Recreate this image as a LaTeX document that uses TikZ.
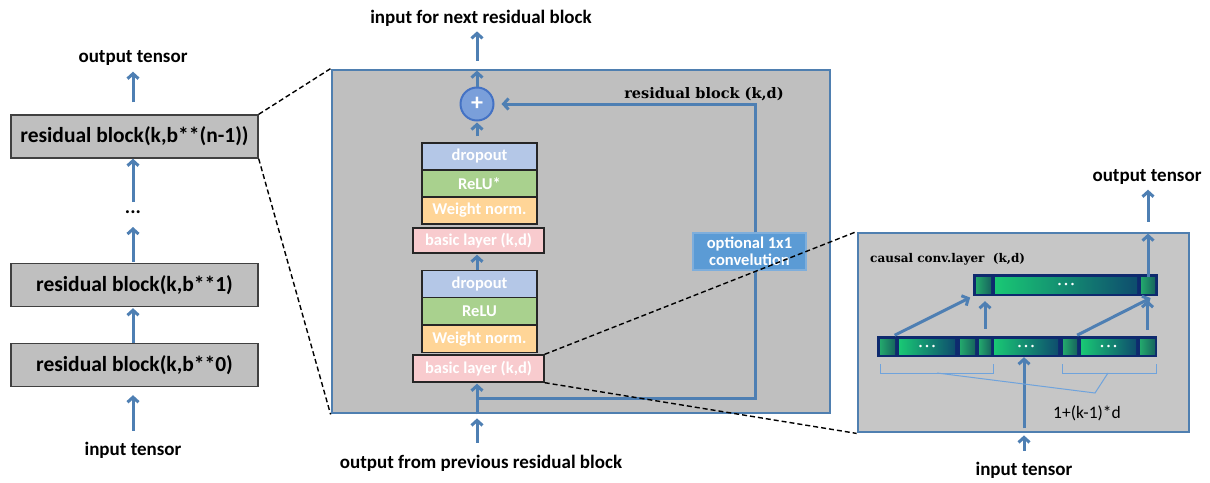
\documentclass[tikz,border=0pt]{standalone}
\usepackage{fontspec}
\setmainfont{Carlito}
\newfontfamily\slabfont{DejaVu Serif}
\usetikzlibrary{arrows.meta,calc}
\definecolor{arrowblue}{HTML}{4E7FB3}
\definecolor{boxgray}{HTML}{BFBFBF}
\definecolor{rgray}{HTML}{C6C6C6}
\definecolor{blockborder}{HTML}{4F7FB0}
\definecolor{dropc}{HTML}{B4C7E7}
\definecolor{reluc}{HTML}{A9D18E}
\definecolor{wnc}{HTML}{FFD597}
\definecolor{basicc}{HTML}{F8CBCE}
\definecolor{optc}{HTML}{5B9BD5}
\definecolor{optb}{HTML}{7EAEDC}
\definecolor{plusc}{HTML}{7A9FDA}
\definecolor{plusb}{HTML}{4472C4}
\definecolor{navy}{HTML}{0E2A6E}
\definecolor{brightg}{HTML}{19C874}
\definecolor{darkt}{HTML}{0E4D6E}
\definecolor{smallg}{HTML}{23A86C}
\definecolor{smalld}{HTML}{17655E}
\definecolor{braceblue}{HTML}{6FA3DC}
\newcommand{\celldots}{\fontsize{7}{7}\selectfont\textbullet\hspace{3pt}\textbullet\hspace{3pt}\textbullet}
\tikzset{
  arr/.style={draw=arrowblue, line width=3pt, -{Straight Barb[length=5pt,width=11pt]}},
  lbl/.style={inner sep=0pt, font=\fontsize{19}{21}\selectfont\bfseries},
  lbox/.style={draw=black!75, fill=boxgray, line width=1.4pt, minimum width=247pt, minimum height=43pt, inner sep=0pt, font=\fontsize{21.5}{23}\selectfont\bfseries},
  blockrect/.style={draw=blockborder, line width=2.8pt, inner sep=0pt},
  layer/.style={draw=black!85, line width=1.4pt, minimum width=115pt, minimum height=27pt, inner sep=0pt, text=white, font=\fontsize{16.5}{17}\selectfont\bfseries},
  zoomline/.style={draw=black, line width=1.4pt, dash pattern=on 5pt off 3pt},
  bar/.style={fill=navy, inner sep=0pt},
  bigcell/.style={left color=brightg, right color=darkt, inner sep=0pt, text=white},
  smallcell/.style={left color=smallg, right color=smalld, inner sep=0pt},
  brace/.style={draw=braceblue, line width=1pt},
}
\begin{document}
\begin{tikzpicture}[x=1pt,y=-1pt]
\useasboundingbox (0,0) rectangle (1210,482);
% ---------- left column ----------
\node[lbl] (ot) at (133,58) {output tensor};
\node[lbox] (bn) at (134.5,136.5) {residual block(k,b**(n-1))};
\node[lbl, font=\fontsize{20}{21}\selectfont\bfseries] (dots) at (133,212) {...};
\node[lbox] (b1) at (134.5,285) {residual block(k,b**1)};
\node[lbox] (b0) at (134.5,365) {residual block(k,b**0)};
\node[lbl] (it) at (133,450) {input tensor};
\coordinate (dtop) at (133,203);
\coordinate (dbot) at (133,227);
\draw[arr, shorten <=12pt, shorten >=6pt] (bn.north -| ot) -- (ot.south);
\draw[arr, shorten <=1pt] (dtop) -- (bn.south -| dots);
\draw[arr, shorten <=1pt] (b1.north -| dots) -- (dbot);
\draw[arr, shorten >=1pt] (b0.north -| dots) -- (b1.south -| dots);
\draw[arr, shorten <=11pt, shorten >=8pt] (it.north) -- (b0.south -| it);
% ---------- middle block ----------
\node[blockrect, fill=boxgray, minimum width=498pt, minimum height=343pt] (rb) at (581,241.5) {};
\node[lbl] (inext) at (481,18) {input for next residual block};
\node[lbl] (oprev) at (481,463) {output from previous residual block};
\node[circle, draw=plusb, fill=plusc, line width=2pt, minimum size=33pt, inner sep=0pt, text=white, font=\fontsize{24}{24}\selectfont\bfseries] (plus) at (477,104) {+};
\node[layer, fill=dropc] (d1) at (479.5,156.5) {dropout};
\node[layer, fill=reluc] (r1) at (479.5,183.5) {ReLU*};
\node[layer, fill=wnc] (w1) at (479.5,210.5) {Weight norm.};
\node[layer, fill=basicc, minimum width=131pt, minimum height=25pt] (bl1) at (478.5,240.5) {basic layer (k,d)};
\node[layer, fill=dropc] (d2) at (479.5,284) {dropout};
\node[layer, fill=reluc] (r2) at (479.5,311) {ReLU};
\node[layer, fill=wnc] (w2) at (479.5,339) {Weight norm.};
\node[layer, fill=basicc, minimum width=131pt] (bl2) at (478.5,368.5) {basic layer (k,d)};
\node[draw=optb, fill=optc, line width=1.4pt, minimum width=113pt, minimum height=37pt, inner sep=0pt, text=white, align=center, font=\fontsize{16.5}{17}\selectfont\bfseries] (opt) at (749.5,251.5) {optional 1x1\\convelution};
\node[inner sep=0pt, font=\slabfont\fontsize{14.5}{16}\selectfont\bfseries] (rbt) at (704,94) {residual block (k,d)};
\coordinate (rtop) at (755,104);
\coordinate (rbot) at (755,398);
\coordinate (rjoin) at (477,398);
% arrows
\draw[arr, shorten <=8pt, shorten >=5pt] (rb.north -| plus) -- (inext.south -| plus);
\draw[arr, shorten >=2pt] (plus.north) -- (plus.north |- rb.north);
\draw[arr, shorten <=6pt, shorten >=1pt] (d1.north -| plus) -- (plus.south);
\draw[arr, shorten >=1pt] (d2.north -| plus) -- (bl1.south -| plus);
\draw[arr, shorten <=12pt, shorten >=4pt] (oprev.north -| plus) -- (rb.south -| plus);
\draw[arr, shorten >=1pt] (rb.south -| plus) -- (bl2.south -| plus);
\draw[draw=arrowblue, line width=3pt] (opt.south -| rbot) -- (rbot) -- (rjoin);
\draw[arr, shorten >=7pt] (opt.north -| rtop) -- (rtop) -- (plus.east);
% ---------- right block ----------
\node[blockrect, fill=rgray, minimum width=331pt, minimum height=199pt] (cr) at (1023.5,332.5) {};
\node[lbl] (ot2) at (1147,177) {output tensor};
\node[lbl] (it2) at (1024,470) {input tensor};
\node[anchor=west, inner sep=0pt, font=\slabfont\fontsize{12}{13}\selectfont\bfseries] (cct) at (870,259) {causal conv.layer \ (k,d)};
\node[bar, minimum width=185pt, minimum height=22pt] (tb) at (1065.5,285) {};
\node[smallcell, minimum width=15pt, minimum height=16pt] (tc1) at (983.5,285) {};
\node[bigcell, minimum width=142pt, minimum height=16pt] (tc2) at (1066,285) {\celldots};
\node[smallcell, minimum width=14pt, minimum height=16pt] (tc3) at (1148,285) {};
\node[bar, minimum width=280pt, minimum height=21pt] (lb) at (1017,346.5) {};
\node[smallcell, minimum width=15pt, minimum height=15pt] (s1a) at (887.5,346.5) {};
\node[bigcell, minimum width=56pt, minimum height=15pt] (s1b) at (927,346.5) {\celldots};
\node[smallcell, minimum width=15pt, minimum height=15pt] (s1c) at (967.5,346.5) {};
\node[smallcell, minimum width=12pt, minimum height=15pt] (s2a) at (985,346.5) {};
\node[bigcell, minimum width=64pt, minimum height=15pt] (s2b) at (1026,346.5) {\celldots};
\node[smallcell, minimum width=14pt, minimum height=15pt] (s3a) at (1070,346.5) {};
\node[bigcell, minimum width=55pt, minimum height=15pt] (s3b) at (1108.5,346.5) {\celldots};
\node[smallcell, minimum width=15pt, minimum height=15pt] (s3c) at (1147.5,346.5) {};
\node[inner sep=0pt, font=\fontsize{17.5}{18}\selectfont] (form) at (1087,413) {1+(k-1)*d};
% arrows
\draw[arr, shorten <=8pt, shorten >=3pt] (s1a.north) -- (tb.south west);
\draw[arr, shorten <=10pt, shorten >=5pt] (s2a.north) -- (s2a.north |- tb.south);
\draw[arr, shorten <=8pt, shorten >=4pt] (s3a.north) -- ([xshift=-4pt]tb.south east);
\draw[arr, shorten <=9pt, shorten >=4pt] (s3c.north) -- (s3c.north |- tb.south);
\draw[arr, shorten >=2pt] (tc3.north) -- (tc3.north |- cr.north);
\draw[arr, shorten <=10pt, shorten >=5pt] (cr.north -| tc3) -- (ot2.south -| tc3);
\draw[arr, shorten <=11pt, shorten >=2pt] (it2.north) -- (cr.south -| it2);
\draw[arr, shorten <=5pt, shorten >=3pt] (cr.south -| it2) -- (s2b.south -| it2);
% braces
\draw[brace] (880,364) -- (880,373) -- (993,373) -- (993,364);
\draw[brace] (1062,364) -- (1062,373) -- (1156,373) -- (1156,364);
\draw[brace] (937,373) -- (1095,393) -- (1108,373);
% ---------- dashed zoom lines ----------
\draw[zoomline] (bn.north east) -- (rb.north west);
\draw[zoomline] (bn.south east) -- (rb.south west);
\draw[zoomline] (bl2.north east) -- (cr.north west);
\draw[zoomline] (bl2.south east) -- (cr.south west);
\end{tikzpicture}
\end{document}
